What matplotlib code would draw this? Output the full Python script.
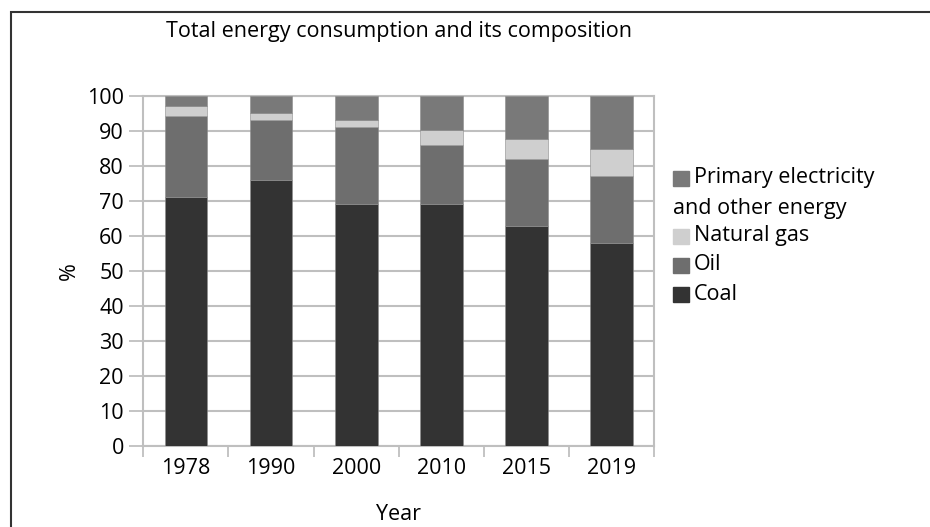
import numpy as np
import matplotlib
matplotlib.use("Agg")
import matplotlib.pyplot as plt
from matplotlib.patches import Rectangle

plt.rcParams['font.family'] = ['Open Sans', 'DejaVu Sans']

years = ['1978', '1990', '2000', '2010', '2015', '2019']
coal = [71.0, 76.0, 69.2, 69.2, 62.8, 57.9]
oil = [23.2, 17.2, 22.0, 16.7, 19.1, 19.2]
gas = [2.8, 2.0, 2.0, 4.4, 5.9, 7.8]
electricity = [3.0, 4.8, 6.8, 9.7, 12.2, 15.1]

series = [coal, oil, gas, electricity]
names = ['Coal', 'Oil', 'Natural gas', 'Primary electricity\nand other energy']
colors = ['#333333', '#6e6e6e', '#cfcfcf', '#797979']
fs = 15.5

fig = plt.figure(figsize=(9.3, 5.27), dpi=100)
ax = fig.add_axes([143.3 / 930, 1 - 445.7 / 527, 511 / 930, (445.7 - 96) / 527])

x = np.arange(len(years))
bottom = np.zeros(len(years))
for vals, c in zip(series, colors):
    ax.bar(x, vals, width=0.5, bottom=bottom, color=c, edgecolor='#8c8c8c',
           linewidth=0.4, zorder=3)
    bottom += np.array(vals)

ax.set_xlim(-0.5, len(years) - 0.5)
ax.set_ylim(0, 100)
ax.set_yticks(np.arange(0, 101, 10))
ax.set_xticks(x)
ax.set_xticklabels(years)
ax.set_xticks(np.arange(-0.5, len(years)), minor=True)
ax.tick_params(axis='x', which='major', length=0, pad=9, labelsize=fs)
ax.tick_params(axis='x', which='minor', length=8, width=1.3, color='#bfbfbf')
ax.tick_params(axis='y', length=10, width=1.3, color='#bfbfbf', pad=4, labelsize=fs)
ax.grid(axis='y', color='#bfbfbf', linewidth=1.5, zorder=0)
for s in ax.spines.values():
    s.set_color('#bfbfbf')
    s.set_linewidth(1.5)
ax.set_axisbelow(True)

ax.set_xlabel('Year', fontsize=fs, labelpad=18)
ax.set_ylabel('%', fontsize=fs, labelpad=5)
fig.text(399 / 930, 1 - 32 / 527, 'Total energy consumption and its composition',
         ha='center', va='center', fontsize=fs)

# legend drawn by hand so the wrapped line sits under the square
rows = [(178, 3), (236, 2), (265, 1), (294, 0)]
for yc, i in rows:
    fig.patches.append(Rectangle((673 / 930, 1 - (yc + 7.5) / 527), 16 / 930, 15 / 527,
                                 transform=fig.transFigure, color=colors[i]))
    first = names[i].split('\n')
    fig.text(694 / 930, 1 - yc / 527, first[0], ha='left', va='center', fontsize=fs)
    if len(first) > 1:
        fig.text(673 / 930, 1 - (yc + 30) / 527, first[1], ha='left', va='center',
                 fontsize=fs)

# outer frame (only top and left edges are inside the picture)
fig.patches.append(Rectangle((11 / 930, -0.1), 1.2, 1 - 12 / 527 + 0.1,
                             transform=fig.transFigure, fill=False,
                             edgecolor='#333333', linewidth=1.5))

fig.savefig('out.png', dpi=100)
